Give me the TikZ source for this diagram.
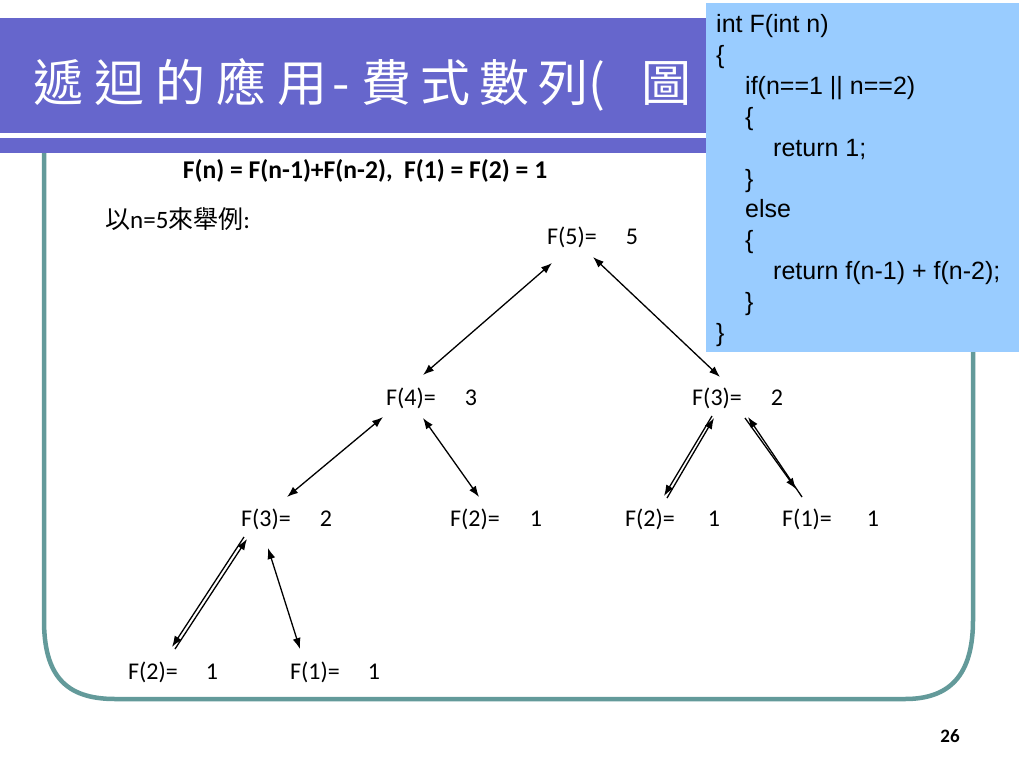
\documentclass[tikz,border=0pt]{standalone}
\usepackage{fontspec}
\setmainfont{Carlito}
\newfontfamily\cjk{Noto Sans CJK TC}
\newfontfamily\arialf{Liberation Sans}
\usetikzlibrary{arrows.meta}
\definecolor{barpurple}{HTML}{6666CC}
\definecolor{codeblue}{HTML}{99CCFF}
\definecolor{frameteal}{HTML}{639A9A}
\newcommand\tcell[2]{\makebox[#1pt][l]{#2}}
\begin{document}
\begin{tikzpicture}[x=1pt,y=-1pt,
  fnode/.style={anchor=base west,inner sep=0pt,font=\fontsize{24}{28}\selectfont},
  codeline/.style={anchor=base west,inner sep=0pt,font=\arialf\fontsize{25}{30}\selectfont},
  link/.style={line width=1.3pt,{Latex[length=11pt,width=8pt]}-{Latex[length=11pt,width=8pt]}},
  arr/.style={line width=1.3pt,-{Latex[length=11pt,width=8pt]}}]
\useasboundingbox (0,0) rectangle (1024,768);
\fill[white] (0,0) rectangle (1024,768);
% frame
\draw[frameteal,line width=4.5pt] (44,140) -- (44,620) .. controls (44,675) and (65,699) .. (115,699)
  -- (905,699) .. controls (950,699) and (973,675) .. (973,620) -- (973,140);
% title bars
\fill[barpurple] (0,18) rectangle (1010,133);
\fill[barpurple] (0,138) rectangle (1010,153);
\node[anchor=base west,inner sep=0pt,text=white,font=\cjk\fontsize{50}{56}\selectfont] (title) at (33,101)
  {\tcell{61}{遞}\tcell{61}{迴}\tcell{61}{的}\tcell{61}{應}\tcell{55}{用}\tcell{29}{-}%
   \tcell{59}{費}\tcell{59}{式}\tcell{59}{數}\tcell{50}{列}\tcell{53}{(}圖};
% code box
\node[fill=codeblue,anchor=north west,minimum width=313pt,minimum height=349pt,inner sep=0pt] (codebox) at (706,3) {};
\node[codeline] (c0) at (716,33) {int F(int n)};
\node[codeline] (c1) at (716,63.8) {\{};
\node[codeline] (c2) at (745,94.6) {if(n==1 || n==2)};
\node[codeline] (c3) at (745,125.4) {\{};
\node[codeline] (c4) at (773,156.2) {return 1;};
\node[codeline] (c5) at (745,187) {\}};
\node[codeline] (c6) at (745,217.8) {else};
\node[codeline] (c7) at (745,248.6) {\{};
\node[codeline] (c8) at (773,279.4) {return f(n-1) + f(n-2);};
\node[codeline] (c9) at (745,310.2) {\}};
\node[codeline] (c10) at (716,341) {\}};
% texts
\node[anchor=base,inner sep=0pt,font=\bfseries\fontsize{25.6}{30}\selectfont] (formula) at (365,178)
  {F(n) = F(n-1)+F(n-2),\ \ F(1) = F(2) = 1};
\node[anchor=base west,inner sep=0pt,font=\fontsize{25}{30}\selectfont] (example) at (105,228)
  {{\cjk 以}n=5{\cjk 來舉例}:};
\node[anchor=base,inner sep=0pt,font=\bfseries\fontsize{19}{22}\selectfont] (pagenum) at (950,742) {26};
% tree nodes
\node[fnode] (f5) at (547,244) {F(5)=\hspace{29pt}5};
\node[fnode] (f4) at (386,405) {F(4)=\hspace{29pt}3};
\node[fnode] (f3r) at (692,405) {F(3)=\hspace{29pt}2};
\node[fnode] (f3l) at (241,526) {F(3)=\hspace{29pt}2};
\node[fnode] (f2a) at (450,526) {F(2)=\hspace{30pt}1};
\node[fnode] (f2b) at (625,526) {F(2)=\hspace{33pt}1};
\node[fnode] (f1a) at (782,526) {F(1)=\hspace{35pt}1};
\node[fnode] (f2c) at (128,679) {F(2)=\hspace{28pt}1};
\node[fnode] (f1b) at (290,679) {F(1)=\hspace{28pt}1};
% connectors
\draw[link] ([shift={(5,19)}]f5.base west) -- ([shift={(37,-30)}]f4.base west);
\draw[link] ([shift={(46,13)}]f5.base west) -- ([shift={(28,-28)}]f3r.base west);
\draw[link] ([shift={(-3,12)}]f4.base west) -- ([shift={(46,-29)}]f3l.base west);
\draw[link] ([shift={(37,13)}]f4.base west) -- ([shift={(29,-29)}]f2a.base west);
\draw[arr] ([shift={(42,-28)}]f2b.base west) -- ([shift={(22,13)}]f3r.base west);
\draw[arr] ([shift={(20,11)}]f3r.base west) -- ([shift={(39,-30)}]f2b.base west);
\draw[arr] ([shift={(20,-29)}]f1a.base west) -- ([shift={(56,12)}]f3r.base west);
\draw[arr] ([shift={(53,13)}]f3r.base west) -- ([shift={(14,-37)}]f1a.base west);
\draw[arr] ([shift={(47,-30)}]f2c.base west) -- ([shift={(6,13)}]f3l.base west);
\draw[arr] ([shift={(3,11)}]f3l.base west) -- ([shift={(44,-32)}]f2c.base west);
\draw[link] ([shift={(27,22)}]f3l.base west) -- ([shift={(10,-30)}]f1b.base west);
\end{tikzpicture}
\end{document}
